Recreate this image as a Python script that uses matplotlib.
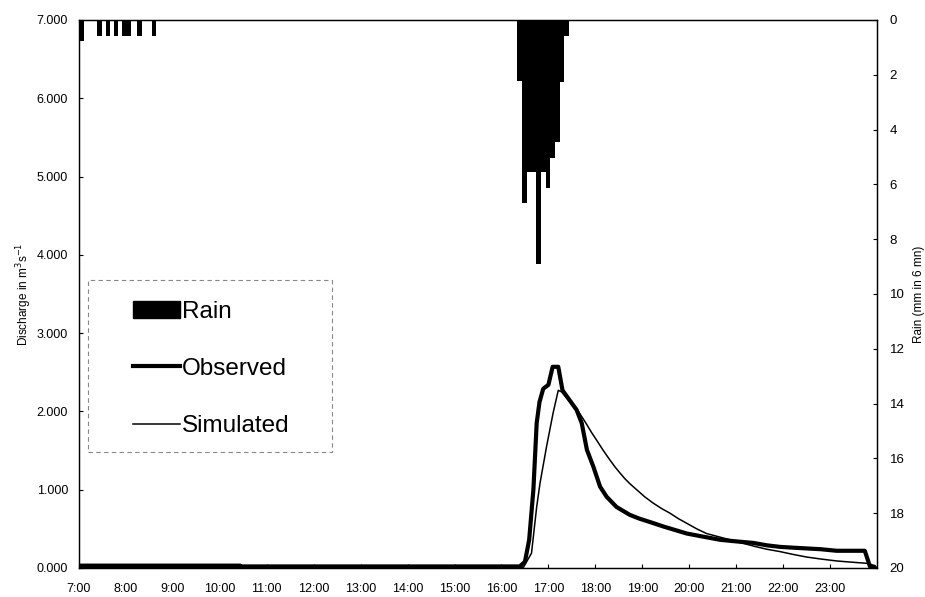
import matplotlib
matplotlib.use("Agg")
import matplotlib.pyplot as plt
from matplotlib.patches import Patch, Rectangle
from matplotlib.lines import Line2D
from matplotlib.ticker import FuncFormatter

plt.rcParams['font.family'] = ['Liberation Sans', 'DejaVu Sans']

# ---- data (hours of day) ----
obs_hours = [7.0, 10.43, 10.45, 15.76, 16.39, 16.50, 16.59, 16.68, 16.75, 16.81, 16.89, 17.00,
             17.09, 17.21, 17.30, 17.42, 17.60, 17.71, 17.82, 17.96, 18.10, 18.24, 18.45,
             18.73, 18.94, 19.20, 19.45, 19.95, 20.30, 20.66, 21.00, 21.37, 21.65, 21.93,
             22.20, 22.50, 22.80, 23.14, 23.45, 23.74, 23.85, 23.96]
obs_q = [0.03, 0.03, 0.02, 0.02, 0.02, 0.08, 0.36, 1.00, 1.85, 2.12, 2.29, 2.34,
         2.57, 2.57, 2.27, 2.17, 2.02, 1.85, 1.51, 1.29, 1.04, 0.91, 0.78,
         0.68, 0.63, 0.58, 0.53, 0.44, 0.40, 0.36, 0.34, 0.32, 0.29, 0.27,
         0.26, 0.25, 0.24, 0.22, 0.22, 0.22, 0.02, 0.00]

sim_hours = [7.0, 16.40, 16.47, 16.64, 16.75, 16.82, 16.96, 17.10, 17.21, 17.28, 17.46, 17.64,
             17.82, 17.92, 18.03, 18.17, 18.31, 18.42, 18.53, 18.63, 18.73, 18.88, 19.05,
             19.23, 19.41, 19.59, 19.77, 19.95, 20.16, 20.37, 20.62, 20.87, 21.12, 21.37,
             21.65, 21.93, 22.20, 22.50, 22.80, 23.14, 23.45, 23.78, 23.96]
sim_q = [0.01, 0.01, 0.01, 0.19, 0.78, 1.08, 1.55, 1.98, 2.27, 2.25, 2.12, 2.00,
         1.83, 1.73, 1.63, 1.50, 1.38, 1.29, 1.21, 1.14, 1.08, 1.00, 0.91,
         0.83, 0.76, 0.70, 0.63, 0.57, 0.50, 0.44, 0.40, 0.36, 0.32, 0.28,
         0.24, 0.21, 0.175, 0.14, 0.115, 0.09, 0.075, 0.06, 0.03]

rain_start = [7.00, 7.38, 7.57, 7.74, 7.91, 8.01, 8.24, 8.55,
              16.34, 16.44, 16.54, 16.64, 16.74, 16.84, 16.94, 17.04, 17.14, 17.24, 17.34]
rain_mm = [0.75, 0.6, 0.6, 0.6, 0.6, 0.6, 0.6, 0.6,
           2.23, 6.68, 5.55, 5.55, 8.89, 5.55, 6.12, 5.03, 4.47, 2.25, 0.58]
rain_width = 0.1

hour_ticks = list(range(7, 24))
hour_labels = [f"{h}:00" for h in hour_ticks]
rain_ticks = list(range(0, 21, 2))
q_ticks = [0, 1, 2, 3, 4, 5, 6, 7]

# ---- figure ----
W, H = 925, 597
fig = plt.figure(figsize=(W / 100, H / 100), dpi=100)
L, R, T, B = 79, 877, 20, 568
ax = fig.add_axes([L / W, (H - B) / H, (R - L) / W, (B - T) / H])
ax2 = ax.twinx()

ax2.bar(rain_start, rain_mm, width=rain_width, align='edge', color='black', linewidth=0)
ax2.set_ylim(20, 0)
ax2.set_yticks(rain_ticks)
ax2.tick_params(axis='y', labelsize=9.5, length=3, direction='in', pad=9)
ax2.set_ylabel("Rain (mm in 6 mn)", fontsize=8.5, labelpad=6.5)

ax.plot(obs_hours, obs_q, color='black', lw=3.0, solid_joinstyle='round', zorder=3)
ax.plot(sim_hours, sim_q, color='black', lw=1.1, zorder=4)
ax.set_zorder(ax2.get_zorder() + 1)
ax.patch.set_visible(False)

ax.set_xlim(7, 24)
ax.set_ylim(0, 7)
ax.set_xticks(hour_ticks)
ax.set_xticklabels(hour_labels)
ax.set_yticks(q_ticks)
ax.yaxis.set_major_formatter(FuncFormatter(lambda v, p: f"{v:.3f}"))
ax.tick_params(axis='x', labelsize=9, length=3, direction='in', pad=10.5)
ax.tick_params(axis='y', labelsize=9, length=3, direction='in', pad=7.8)
ax.set_ylabel("Discharge in m$^3$s$^{-1}$", fontsize=8.5, labelpad=2)

for a in (ax, ax2):
    for s in a.spines.values():
        s.set_linewidth(0.9)

# legend box
ax.add_patch(Rectangle((0.011, 0.212), 0.306, 0.314, transform=ax.transAxes,
                       fill=False, edgecolor='#888888', lw=0.8, linestyle=(0, (4, 3)), zorder=5))
handles = [Patch(facecolor='black', edgecolor='black', label='Rain'),
           Line2D([], [], color='black', lw=3.0, label='Observed'),
           Line2D([], [], color='black', lw=1.1, label='Simulated')]
ax.legend(handles=handles, loc='upper left', bbox_to_anchor=(0.0555, 0.5055),
          borderaxespad=0, frameon=False, fontsize=17.5, handlelength=1.93,
          handletextpad=0.1, labelspacing=1.45)

fig.savefig("out.png", dpi=100)
